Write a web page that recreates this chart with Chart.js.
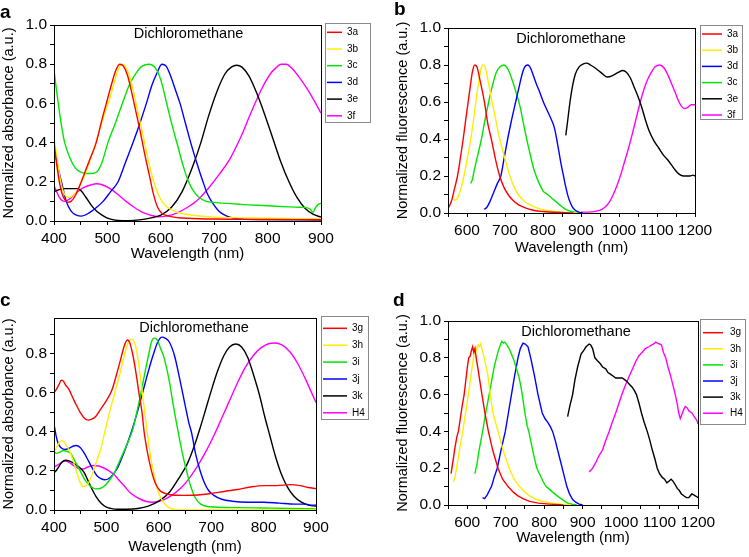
<!DOCTYPE html>
<html>
<head>
<meta charset="utf-8">
<title>Absorbance and fluorescence spectra in dichloromethane</title>
<script src="https://cdn.jsdelivr.net/npm/chart.js@4.4.1/dist/chart.umd.min.js"></script>
<style>
  html, body { margin: 0; padding: 0; background: #fff; }
  #wrap {
    position: relative; width: 749px; height: 557px; overflow: hidden;
    font-family: 'Liberation Sans', Arial, Helvetica, sans-serif;
  }
  #wrap canvas { position: absolute; }
  .tag { position: absolute; font-weight: bold; font-size: 19px; line-height: 19px; color: #000; }
</style>
</head>
<body>
<div id="wrap">
  <canvas id="chartA" width="374" height="272" style="left:0;top:0"></canvas>
  <canvas id="chartB" width="374" height="272" style="left:375px;top:0"></canvas>
  <canvas id="chartC" width="374" height="277" style="left:0;top:280px"></canvas>
  <canvas id="chartD" width="374" height="277" style="left:375px;top:280px"></canvas>
  <div class="tag" style="left:0;top:2px">a</div>
  <div class="tag" style="left:394px;top:-1px">b</div>
  <div class="tag" style="left:0;top:290px">c</div>
  <div class="tag" style="left:393px;top:290px">d</div>
</div>

<script>
// ── Data: panel a (absorbance, 3a–3f) ─────────────────────────
const abs3a = [[400,0.40],[405,0.29],[410,0.20],[415,0.14],[420,0.11],[426,0.095],[432,0.10],[440,0.13],[451,0.20],[465,0.30],[479,0.40],[490,0.52],[498,0.60],[508,0.70],[516,0.77],[523,0.80],[530,0.79],[538,0.74],[546,0.65],[554,0.55],[562,0.45],[570,0.34],[578,0.24],[586,0.14],[594,0.07],[602,0.04],[615,0.025],[640,0.015],[700,0.01],[800,0.008],[900,0.006]];
const abs3b = [[400,0.43],[405,0.33],[410,0.24],[415,0.17],[420,0.135],[428,0.12],[436,0.13],[445,0.16],[455,0.22],[465,0.29],[475,0.37],[485,0.46],[495,0.55],[505,0.63],[512,0.70],[520,0.77],[527,0.80],[533,0.79],[540,0.75],[548,0.67],[556,0.57],[564,0.47],[572,0.37],[580,0.27],[588,0.19],[596,0.13],[605,0.09],[615,0.065],[630,0.045],[650,0.033],[700,0.02],[800,0.014],[900,0.01]];
const abs3c = [[400,0.77],[405,0.66],[410,0.56],[415,0.47],[420,0.40],[430,0.32],[440,0.27],[450,0.25],[460,0.242],[470,0.242],[480,0.25],[490,0.30],[501,0.40],[515,0.50],[528,0.60],[542,0.70],[555,0.76],[565,0.79],[578,0.80],[590,0.78],[600,0.72],[611,0.60],[622,0.48],[632,0.38],[642,0.28],[652,0.20],[662,0.15],[672,0.12],[685,0.10],[700,0.095],[750,0.085],[800,0.078],[840,0.072],[860,0.07],[872,0.068],[880,0.06],[885,0.045],[890,0.07],[895,0.085],[900,0.09]];
const abs3d = [[400,0.38],[407,0.28],[414,0.20],[423,0.10],[432,0.05],[442,0.03],[451,0.025],[465,0.04],[480,0.07],[492,0.10],[506,0.15],[520,0.20],[534,0.30],[548,0.40],[561,0.50],[573,0.60],[583,0.69],[592,0.75],[602,0.80],[610,0.79],[617,0.75],[626,0.68],[636,0.60],[646,0.50],[656,0.40],[667,0.30],[679,0.20],[687,0.14],[695,0.10],[709,0.05],[729,0.02],[750,0.01],[800,0.007],[900,0.005]];
const abs3e = [[400,0.15],[410,0.16],[420,0.165],[435,0.165],[445,0.165],[452,0.15],[460,0.12],[470,0.08],[480,0.05],[490,0.03],[500,0.015],[510,0.007],[520,0.003],[540,0.002],[560,0.006],[580,0.015],[600,0.03],[620,0.07],[640,0.15],[660,0.28],[675,0.40],[690,0.54],[705,0.66],[720,0.75],[732,0.785],[742,0.795],[752,0.785],[765,0.74],[780,0.65],[795,0.54],[810,0.42],[825,0.30],[840,0.20],[855,0.12],[870,0.065],[885,0.035],[900,0.02]];
const abs3f = [[400,0.18],[405,0.15],[410,0.12],[415,0.105],[420,0.10],[428,0.11],[440,0.14],[455,0.17],[470,0.185],[480,0.19],[490,0.185],[505,0.165],[520,0.135],[535,0.10],[550,0.07],[565,0.045],[580,0.03],[595,0.022],[610,0.025],[630,0.04],[650,0.07],[670,0.11],[690,0.17],[710,0.24],[730,0.32],[750,0.43],[770,0.56],[790,0.68],[805,0.75],[815,0.78],[825,0.80],[835,0.80],[845,0.78],[860,0.73],[875,0.67],[890,0.60],[900,0.55]];

// ── Data: panel b (fluorescence, 3a–3f) ───────────────────────
const fl3a = [[552,0.03],[560,0.07],[567,0.13],[575,0.20],[582,0.29],[590,0.40],[597,0.51],[603,0.60],[609,0.69],[614,0.76],[620,0.80],[626,0.79],[634,0.72],[645,0.61],[655,0.48],[664,0.40],[675,0.29],[686,0.20],[697,0.14],[708,0.10],[720,0.07],[735,0.045],[750,0.03],[765,0.02],[780,0.012],[800,0.008],[830,0.004],[860,0.002],[880,0.0]];
const fl3b = [[565,0.07],[570,0.07],[577,0.09],[585,0.14],[594,0.22],[602,0.31],[610,0.40],[617,0.50],[624,0.61],[630,0.70],[636,0.77],[641,0.80],[647,0.79],[655,0.72],[666,0.60],[676,0.50],[686,0.40],[699,0.30],[713,0.20],[724,0.14],[735,0.10],[750,0.065],[765,0.045],[780,0.03],[800,0.018],[830,0.008],[860,0.003],[890,0.0]];
const fl3d = [[645,0.02],[652,0.03],[660,0.06],[670,0.11],[680,0.16],[689,0.20],[698,0.30],[707,0.40],[717,0.50],[728,0.60],[737,0.68],[745,0.75],[752,0.79],[760,0.80],[768,0.78],[775,0.74],[782,0.70],[792,0.65],[801,0.60],[812,0.55],[823,0.50],[830,0.46],[836,0.40],[842,0.33],[848,0.26],[854,0.20],[860,0.14],[866,0.09],[872,0.055],[878,0.03],[885,0.015],[893,0.006],[905,0.0]];
const fl3c = [[610,0.16],[614,0.18],[620,0.24],[628,0.31],[638,0.40],[647,0.50],[657,0.60],[667,0.69],[677,0.76],[687,0.79],[697,0.80],[707,0.78],[717,0.73],[728,0.66],[739,0.58],[748,0.49],[757,0.40],[766,0.32],[774,0.25],[782,0.20],[790,0.16],[800,0.12],[812,0.10],[823,0.08],[835,0.06],[849,0.035],[860,0.02],[875,0.008],[890,0.002],[900,0.0]];
const fl3e = [[860,0.42],[865,0.50],[871,0.60],[878,0.69],[885,0.75],[895,0.79],[905,0.805],[915,0.81],[925,0.80],[940,0.78],[955,0.755],[970,0.735],[985,0.745],[998,0.76],[1010,0.77],[1020,0.76],[1030,0.73],[1040,0.68],[1050,0.63],[1060,0.57],[1070,0.50],[1080,0.44],[1092,0.39],[1105,0.35],[1118,0.31],[1131,0.28],[1145,0.24],[1158,0.21],[1170,0.20],[1185,0.20],[1195,0.205],[1200,0.20]];
const fl3f = [[900,0.005],[920,0.005],[940,0.01],[955,0.02],[965,0.035],[975,0.06],[985,0.10],[995,0.15],[1005,0.21],[1015,0.28],[1025,0.35],[1034,0.42],[1045,0.51],[1056,0.60],[1066,0.67],[1075,0.72],[1085,0.76],[1095,0.79],[1107,0.80],[1118,0.785],[1130,0.74],[1140,0.69],[1150,0.64],[1158,0.60],[1165,0.575],[1172,0.565],[1180,0.57],[1190,0.585],[1200,0.585]];

// ── Data: panel c (absorbance, 3g–3k, H4) ─────────────────────
const abs3g = [[400,0.60],[405,0.62],[410,0.645],[414,0.665],[418,0.66],[422,0.64],[428,0.62],[435,0.58],[442,0.54],[450,0.50],[458,0.47],[465,0.46],[472,0.465],[480,0.48],[490,0.52],[500,0.56],[510,0.61],[520,0.70],[528,0.78],[534,0.84],[540,0.87],[544,0.86],[550,0.80],[556,0.71],[562,0.60],[568,0.50],[572,0.40],[578,0.30],[586,0.20],[593,0.14],[602,0.10],[612,0.085],[625,0.077],[650,0.075],[675,0.077],[700,0.085],[725,0.095],[750,0.105],[775,0.118],[800,0.125],[825,0.125],[850,0.13],[870,0.125],[885,0.115],[900,0.11]];
const abs3h = [[400,0.30],[405,0.32],[410,0.345],[415,0.355],[420,0.345],[430,0.30],[438,0.24],[445,0.18],[450,0.14],[456,0.12],[462,0.125],[470,0.16],[480,0.24],[490,0.32],[497,0.40],[506,0.50],[516,0.60],[526,0.70],[535,0.80],[542,0.86],[548,0.875],[553,0.86],[558,0.81],[564,0.70],[570,0.57],[577,0.42],[584,0.28],[591,0.18],[598,0.10],[606,0.05],[615,0.02],[625,0.005],[640,0.0],[900,0.0]];
const abs3i = [[400,0.30],[405,0.29],[410,0.295],[418,0.305],[425,0.30],[432,0.29],[440,0.25],[450,0.20],[460,0.15],[470,0.12],[480,0.108],[488,0.11],[495,0.12],[505,0.15],[515,0.19],[525,0.25],[535,0.31],[543,0.36],[550,0.41],[558,0.50],[566,0.60],[574,0.71],[581,0.80],[586,0.86],[591,0.88],[597,0.87],[603,0.83],[610,0.78],[620,0.66],[628,0.53],[637,0.40],[645,0.29],[653,0.20],[661,0.12],[670,0.06],[680,0.03],[695,0.017],[750,0.012],[800,0.01],[850,0.008],[900,0.005]];
const abs3j = [[400,0.44],[404,0.38],[408,0.34],[413,0.32],[420,0.31],[428,0.315],[435,0.325],[442,0.33],[450,0.32],[458,0.29],[466,0.25],[474,0.21],[482,0.175],[490,0.16],[497,0.155],[504,0.16],[512,0.18],[520,0.21],[530,0.27],[540,0.34],[550,0.42],[560,0.51],[570,0.61],[580,0.71],[590,0.80],[598,0.86],[606,0.885],[612,0.88],[620,0.86],[630,0.79],[640,0.67],[650,0.54],[657,0.45],[663,0.39],[670,0.29],[679,0.20],[687,0.14],[695,0.10],[705,0.075],[720,0.055],[740,0.045],[770,0.04],[800,0.04],[830,0.035],[860,0.03],[880,0.03],[890,0.025],[900,0.025]];
const abs3k = [[400,0.19],[405,0.205],[410,0.225],[415,0.245],[422,0.255],[430,0.25],[440,0.235],[450,0.215],[458,0.19],[465,0.15],[472,0.11],[480,0.07],[490,0.035],[500,0.015],[510,0.007],[520,0.004],[540,0.004],[560,0.008],[580,0.02],[600,0.045],[620,0.09],[640,0.17],[655,0.24],[668,0.33],[680,0.43],[690,0.52],[700,0.61],[712,0.71],[724,0.79],[735,0.835],[747,0.85],[758,0.835],[770,0.78],[781,0.69],[792,0.59],[802,0.48],[812,0.38],[822,0.28],[833,0.19],[845,0.12],[858,0.07],[872,0.04],[886,0.025],[900,0.02]];
const absH4 = [[400,0.22],[410,0.235],[420,0.25],[428,0.245],[436,0.23],[445,0.215],[455,0.21],[465,0.22],[475,0.228],[485,0.225],[495,0.215],[505,0.20],[515,0.18],[525,0.15],[535,0.12],[545,0.09],[555,0.07],[565,0.055],[575,0.045],[586,0.04],[600,0.045],[615,0.06],[630,0.085],[645,0.12],[660,0.17],[675,0.23],[690,0.30],[705,0.38],[720,0.47],[735,0.56],[750,0.65],[765,0.73],[780,0.79],[795,0.83],[808,0.85],[821,0.855],[835,0.845],[850,0.81],[865,0.75],[880,0.67],[890,0.61],[900,0.55]];

// ── Data: panel d (fluorescence, 3g–3k, H4) ───────────────────
const fl3g = [[558,0.17],[563,0.24],[568,0.31],[573,0.37],[577,0.40],[582,0.47],[587,0.54],[592,0.60],[597,0.69],[601,0.76],[604,0.80],[608,0.81],[611,0.84],[614,0.86],[617,0.83],[620,0.85],[624,0.79],[628,0.74],[633,0.67],[639,0.59],[646,0.50],[655,0.40],[666,0.30],[680,0.20],[692,0.14],[706,0.10],[720,0.07],[732,0.05],[745,0.035],[762,0.02],[785,0.01],[814,0.005],[850,0.0]];
const fl3h = [[564,0.125],[568,0.15],[573,0.21],[579,0.29],[584,0.35],[589,0.41],[595,0.49],[600,0.56],[605,0.63],[610,0.71],[615,0.78],[619,0.83],[622,0.86],[625,0.84],[628,0.87],[632,0.86],[635,0.875],[638,0.85],[642,0.82],[648,0.76],[654,0.70],[660,0.60],[667,0.50],[680,0.40],[693,0.30],[709,0.20],[722,0.14],[736,0.10],[750,0.07],[762,0.05],[780,0.03],[797,0.02],[820,0.01],[848,0.005],[870,0.0]];
const fl3i = [[620,0.17],[625,0.22],[631,0.30],[640,0.40],[648,0.50],[657,0.60],[664,0.68],[670,0.75],[676,0.80],[681,0.84],[686,0.87],[690,0.89],[694,0.88],[698,0.885],[703,0.87],[709,0.85],[715,0.82],[721,0.79],[728,0.74],[734,0.70],[739,0.65],[743,0.60],[750,0.50],[756,0.43],[760,0.40],[768,0.32],[774,0.26],[781,0.20],[790,0.16],[798,0.125],[805,0.10],[814,0.085],[822,0.07],[831,0.055],[840,0.04],[850,0.025],[861,0.01],[872,0.004],[885,0.0]];
const fl3j = [[640,0.04],[645,0.035],[652,0.055],[658,0.08],[663,0.10],[670,0.15],[678,0.20],[688,0.30],[699,0.40],[707,0.50],[715,0.60],[723,0.70],[732,0.80],[738,0.85],[745,0.88],[751,0.875],[758,0.86],[765,0.80],[770,0.75],[775,0.70],[784,0.60],[795,0.50],[802,0.47],[809,0.45],[815,0.43],[822,0.40],[829,0.35],[835,0.30],[841,0.25],[847,0.20],[853,0.15],[859,0.10],[866,0.06],[874,0.03],[882,0.015],[891,0.005],[900,0.0]];
const fl3k = [[861,0.48],[867,0.54],[874,0.60],[880,0.68],[887,0.75],[896,0.82],[903,0.84],[909,0.86],[917,0.875],[921,0.87],[926,0.85],[932,0.80],[938,0.785],[945,0.77],[952,0.75],[960,0.74],[966,0.72],[973,0.71],[980,0.70],[986,0.69],[995,0.69],[1003,0.69],[1010,0.68],[1016,0.67],[1022,0.655],[1029,0.64],[1035,0.62],[1040,0.60],[1047,0.55],[1053,0.50],[1060,0.45],[1068,0.40],[1075,0.35],[1081,0.30],[1088,0.25],[1094,0.20],[1100,0.17],[1107,0.15],[1113,0.14],[1119,0.12],[1125,0.13],[1130,0.14],[1135,0.13],[1141,0.11],[1146,0.09],[1151,0.08],[1157,0.06],[1163,0.05],[1170,0.04],[1176,0.04],[1180,0.05],[1184,0.06],[1189,0.055],[1193,0.05],[1197,0.045],[1200,0.04]];
const flH4 = [[917,0.18],[922,0.19],[926,0.20],[934,0.23],[943,0.27],[952,0.30],[960,0.35],[969,0.40],[977,0.45],[986,0.50],[994,0.55],[1002,0.60],[1011,0.65],[1021,0.70],[1030,0.74],[1038,0.78],[1046,0.81],[1055,0.83],[1063,0.85],[1072,0.86],[1080,0.87],[1085,0.875],[1090,0.885],[1095,0.88],[1100,0.875],[1105,0.87],[1110,0.83],[1116,0.80],[1122,0.75],[1129,0.70],[1135,0.65],[1141,0.60],[1146,0.55],[1150,0.50],[1154,0.47],[1158,0.49],[1163,0.52],[1167,0.535],[1171,0.53],[1177,0.51],[1184,0.50],[1190,0.48],[1197,0.46],[1200,0.44]];

// ── Colours / fonts ──────────────────────────────────────────
const RED = '#ff0000', YELLOW = '#ffee00', GREEN = '#00e600', BLUE = '#0000ff', BLACK = '#000000', MAGENTA = '#ff00ff';
const FONT = "'Liberation Sans', Arial, Helvetica, sans-serif";
Chart.defaults.font.family = FONT;
Chart.defaults.color = '#000';

function series(label, pts, color, smooth) {
  return {
    label,
    data: pts.map(p => ({ x: p[0], y: p[1] })),
    borderColor: color,
    borderWidth: 1.4,
    pointRadius: 0,
    fill: false,
    tension: smooth ? 0.4 : 0,
    cubicInterpolationMode: smooth ? 'monotone' : 'default',
  };
}

// ── Plugins ──────────────────────────────────────────────────
const framePlugin = {
  id: 'frame',
  afterDraw(chart) {
    const { ctx, chartArea: a } = chart;
    ctx.save();
    ctx.strokeStyle = '#000';
    ctx.lineWidth = 1;
    ctx.strokeRect(Math.round(a.left) + 0.5, Math.round(a.top) + 0.5,
                   Math.round(a.right - a.left), Math.round(a.bottom - a.top));
    ctx.restore();
  }
};

const notePlugin = {
  id: 'panelNote',
  afterDraw(chart, args, o) {
    const ctx = chart.ctx;
    ctx.save();
    ctx.font = `14.5px ${FONT}`;
    ctx.fillStyle = '#000';
    ctx.textAlign = 'center';
    ctx.textBaseline = 'middle';
    ctx.fillText(o.text, o.x, o.y);
    ctx.restore();
  }
};

const boxLegendPlugin = {
  id: 'boxLegend',
  afterDraw(chart, args, o) {
    const ctx = chart.ctx;
    ctx.save();
    ctx.strokeStyle = '#8a8a8a';
    ctx.lineWidth = 1;
    ctx.strokeRect(o.left + 0.5, o.top + 0.5, o.width, o.height);
    ctx.font = `10px ${FONT}`;
    ctx.textBaseline = 'middle';
    ctx.fillStyle = '#000';
    chart.data.datasets.forEach((ds, i) => {
      const y = o.firstRow + i * o.rowGap;
      ctx.strokeStyle = ds.borderColor;
      ctx.lineWidth = 1.5;
      ctx.beginPath();
      ctx.moveTo(o.lineX0, y);
      ctx.lineTo(o.lineX1, y);
      ctx.stroke();
      ctx.fillText(ds.label, o.textX, y);
    });
    ctx.restore();
  }
};

// ── Panel builder ────────────────────────────────────────────
function makePanel(id, cfg) {
  const ctx = document.getElementById(id).getContext('2d');
  return new Chart(ctx, {
    type: 'line',
    data: { datasets: cfg.datasets },
    options: {
      responsive: false,
      animation: false,
      events: [],
      layout: { padding: cfg.pad },
      plugins: {
        legend: { display: false },
        tooltip: { enabled: false },
        boxLegend: cfg.legend,
        panelNote: cfg.note,
      },
      scales: {
        x: {
          type: 'linear',
          bounds: 'data',
          min: cfg.xMin, max: cfg.xMax,
          afterFit: s => { s.height = cfg.xH; },
          border: { color: '#000', width: 1 },
          grid: { drawOnChartArea: false, tickLength: 4, color: '#000' },
          ticks: {
            stepSize: 50, autoSkip: false, maxRotation: 0, padding: 4.2,
            font: { size: 15.5 },
            callback: v => (v % 100 === 0 ? String(v) : ''),
          },
          title: {
            display: true, text: 'Wavelength (nm)', font: { size: 15 },
            padding: { top: 0, bottom: cfg.xTitlePad },
          },
        },
        y: {
          type: 'linear',
          bounds: 'data',
          min: 0, max: cfg.yMax,
          afterFit: s => { s.width = cfg.yW; },
          border: { color: '#000', width: 1 },
          grid: { drawOnChartArea: false, tickLength: 4, color: '#000' },
          ticks: {
            stepSize: 0.1, autoSkip: false, padding: 3, includeBounds: false,
            font: { size: 15.5 },
            callback: v => (Math.round(v * 10) % 2 === 0 ? v.toFixed(1) : ''),
          },
          title: {
            display: true, text: cfg.yTitle, font: { size: 14.5 },
            padding: { top: cfg.yTitlePad, bottom: 0 },
          },
        },
      },
    },
    plugins: [framePlugin, notePlugin, boxLegendPlugin],
  });
}

// ── Init ─────────────────────────────────────────────────────
makePanel('chartA', {
  datasets: [
    series('3a', abs3a, RED, true), series('3b', abs3b, YELLOW, true),
    series('3c', abs3c, GREEN, true), series('3d', abs3d, BLUE, true),
    series('3e', abs3e, BLACK, true), series('3f', abs3f, MAGENTA, true),
  ],
  pad: { left: 0, top: 25, right: 53, bottom: 0 },
  xMin: 400, xMax: 900, xH: 51, xTitlePad: 9,
  yMax: 1.0, yW: 54, yTitlePad: 0.5,
  yTitle: 'Normalized absorbance (a.u.)',
  note: { text: 'Dichloromethane', x: 188.5, y: 34 },
  legend: { left: 325, top: 23, width: 45, height: 99, firstRow: 32.3, rowGap: 16.7, lineX0: 327, lineX1: 342, textX: 347 },
});

makePanel('chartB', {
  datasets: [
    series('3a', fl3a, RED, true), series('3b', fl3b, YELLOW, true),
    series('3d', fl3d, BLUE, true), series('3c', fl3c, GREEN, true),
    series('3e', fl3e, BLACK, true), series('3f', fl3f, MAGENTA, true),
  ],
  pad: { left: 0, top: 28, right: 54, bottom: 0 },
  xMin: 550, xMax: 1200, xH: 59, xTitlePad: 15,
  yMax: 1.0, yW: 73, yTitlePad: 18.8,
  yTitle: 'Normalized fluorescence (a.u.)',
  note: { text: 'Dichloromethane', x: 196, y: 39.3 },
  legend: { left: 325, top: 25, width: 42, height: 94, firstRow: 34, rowGap: 16.2, lineX0: 327, lineX1: 347, textX: 352 },
});

makePanel('chartC', {
  datasets: [
    series('3g', abs3g, RED, true), series('3h', abs3h, YELLOW, true),
    series('3i', abs3i, GREEN, true), series('3j', abs3j, BLUE, true),
    series('3k', abs3k, BLACK, true), series('H4', absH4, MAGENTA, true),
  ],
  pad: { left: 0, top: 38, right: 58, bottom: 0 },
  xMin: 400, xMax: 900, xH: 47, xTitlePad: 1.3,
  yMax: 0.983, yW: 54, yTitlePad: 0,
  yTitle: 'Normalized absorbance (a.u.)',
  note: { text: 'Dichloromethane', x: 194, y: 47.7 },
  legend: { left: 321, top: 36, width: 47, height: 103, firstRow: 48.3, rowGap: 16.9, lineX0: 323, lineX1: 347, textX: 352 },
});

makePanel('chartD', {
  datasets: [
    series('3g', fl3g, RED, false), series('3h', fl3h, YELLOW, false),
    series('3i', fl3i, GREEN, false), series('3j', fl3j, BLUE, false),
    series('3k', fl3k, BLACK, false), series('H4', flH4, MAGENTA, false),
  ],
  pad: { left: 0, top: 41, right: 51, bottom: 0 },
  xMin: 550, xMax: 1200, xH: 52, xTitlePad: 10,
  yMax: 1.0, yW: 73, yTitlePad: 18.8,
  yTitle: 'Normalized fluorescence (a.u.)',
  note: { text: 'Dichloromethane', x: 201, y: 51.7 },
  legend: { left: 325, top: 39, width: 45, height: 105, firstRow: 52.7, rowGap: 16.1, lineX0: 328, lineX1: 348, textX: 355 },
});
</script>
</body>
</html>
